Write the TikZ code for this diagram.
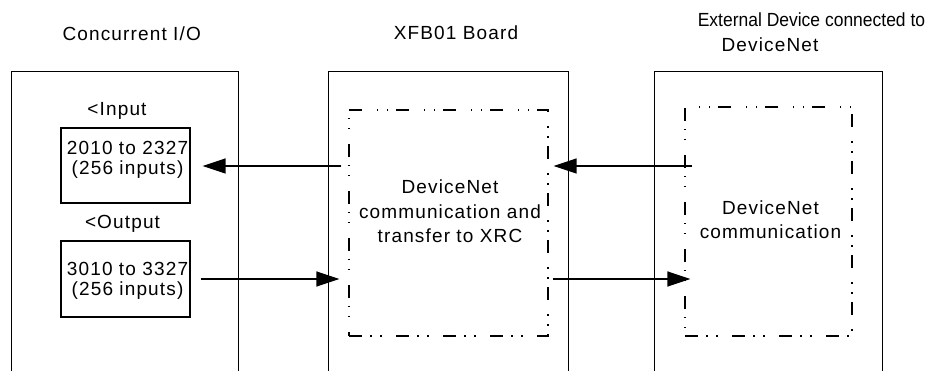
\documentclass[tikz,border=0pt]{standalone}
\usepackage{fontspec}
\setmainfont{Liberation Sans}
\newfontfamily\lsfont[LetterSpace=6]{Liberation Sans}
\newfontfamily\condfont[FakeStretch=0.92]{Liberation Sans}
\usetikzlibrary{arrows.meta,calc}
\begin{document}
\begin{tikzpicture}[x=1pt,y=-1pt,
  txt/.style={font=\lsfont\fontsize{19}{24.75}\selectfont, inner sep=0pt, anchor=base, align=center},
  boxtxt/.style={font=\lsfont\fontsize{19}{20}\selectfont, inner sep=0pt, anchor=base, align=center},
  frame/.style={draw=none, inner sep=0pt},
  frameline/.style={line width=1.3pt},
  solidbox/.style={draw, line width=1.3pt, inner sep=0pt},
  dashbox/.style={draw, line width=1.3pt, inner sep=0pt,
    dash pattern=on 13pt off 8pt on 1.5pt off 8.5pt on 1.5pt off 14.5pt},
  arr/.style={line width=1.6pt, -{Triangle[length=23pt,width=15pt]}}
]
\useasboundingbox (0,0) rectangle (929,371);

% outer frames (open at the bottom)
\node[frame, minimum width=226pt, minimum height=300pt] (lft) at (125,222) {};
\node[frame, minimum width=239pt, minimum height=300pt] (ctr) at (448.5,222) {};
\node[frame, minimum width=227pt, minimum height=300pt] (rgt) at (768.5,222) {};
\foreach \f in {lft,ctr,rgt}
  \draw[frameline] (\f.south west) -- (\f.north west) -- (\f.north east) -- (\f.south east);

% titles
\node[txt] (t1) at (131.7,41) {Concurrent I/O};
\node[txt] (t2) at (456,40) {XFB01 Board};
\node[txt, font=\condfont\fontsize{19}{25}\selectfont] (t3a) at (811.5,26.7) {External Device connected to};
\node[txt] (t3b) at (770,51.7) {DeviceNet};

% left side
\node[txt] (inlab) at (117,116) {<Input};
\node[solidbox, minimum width=129pt, minimum height=75pt] (inbox) at (125.5,165.5) {};
\node[boxtxt] (intxt) at (127.5,174.3) {2010 to 2327\\(256 inputs)};
\node[txt] (outlab) at (122.5,229) {<Output};
\node[solidbox, minimum width=129pt, minimum height=76pt] (outbox) at (125.5,279) {};
\node[boxtxt] (outtxt) at (127.5,295.5) {3010 to 3327\\(256 inputs)};

% middle
\node[dashbox, minimum width=199pt, minimum height=226pt] (mid) at (448.5,223) {};
\node[txt] (midtxt) at (450,243) {DeviceNet\\communication and\\transfer to XRC};

% right
\node[dashbox, minimum width=167pt, minimum height=229pt] (rdash) at (768.5,221.5) {};
\node[txt, font=\lsfont\fontsize{19}{23.3}\selectfont] (rtxt) at (770.5,238.3) {DeviceNet\\communication};

% connectors
\draw[arr] ($(inbox.east -| mid.west)+(-7,0.5)$) -- ($(inbox.east)+(12,0.5)$);
\draw[arr] ($(inbox.east -| rdash.west)+(8,0.5)$) -- ($(inbox.east -| mid.east)+(5,0.5)$);
\draw[arr] ($(outbox.east)+(10,0)$) -- ($(outbox.east -| mid.west)+(-9,0)$);
\draw[arr] ($(outbox.east -| mid.east)+(4,0)$) -- ($(outbox.east -| rdash.west)+(6,0)$);
\end{tikzpicture}
\end{document}
